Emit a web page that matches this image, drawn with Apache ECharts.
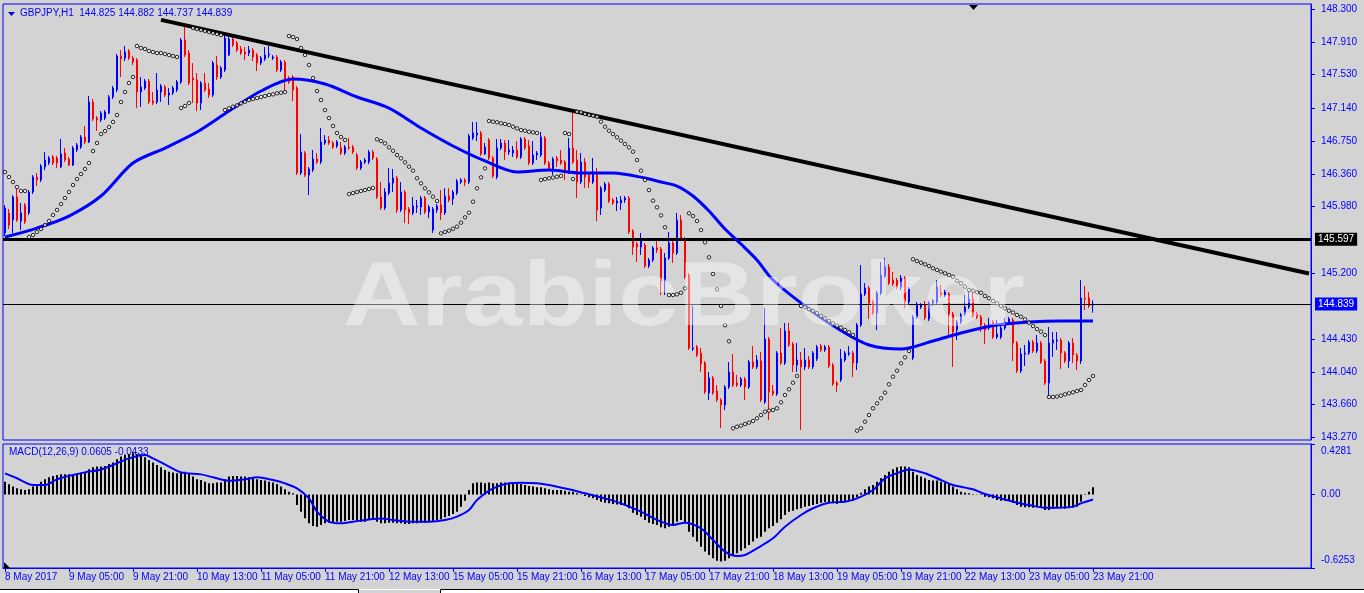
<!DOCTYPE html>
<html><head><meta charset="utf-8">
<script src="https://cdn.jsdelivr.net/npm/echarts@6/dist/echarts.min.js"></script>
<style>html,body{margin:0;padding:0;background:#d3d3d3;overflow:hidden}#c{width:1364px;height:593px}</style>
</head><body><div id="c"></div>
<script>
const symbol = 'GBPJPY,H1';
const tickLabels = ['8 May 2017','9 May 05:00','9 May 21:00','10 May 13:00','11 May 05:00','11 May 21:00','12 May 13:00','15 May 05:00','15 May 21:00','16 May 13:00','17 May 05:00','17 May 21:00','18 May 13:00','19 May 05:00','19 May 21:00','22 May 13:00','23 May 05:00','23 May 21:00'];
// [open, close, low, high]
const candles = [
[145.672,145.965,145.637,146.000],[145.907,145.765,145.718,145.954],[145.824,146.094,145.672,146.117],[146.094,145.824,145.801,146.199],[145.812,145.907,145.707,146.024],
[146.000,145.801,145.777,146.024],[145.907,146.153,145.883,146.176],[146.153,146.329,146.129,146.352],[146.329,146.294,146.223,146.376],[146.294,146.458,146.270,146.481],
[146.446,146.528,146.411,146.623],[146.493,146.552,146.469,146.576],[146.564,146.493,146.469,146.587],[146.552,146.493,146.434,146.576],[146.446,146.599,146.434,146.775],
[146.611,146.528,146.505,146.669],[146.540,146.469,146.458,146.564],[146.469,146.669,146.458,146.693],[146.646,146.705,146.623,146.728],[146.681,146.798,146.658,146.822],
[146.798,146.740,146.716,146.927],[146.740,147.209,146.728,147.280],[147.209,147.010,146.986,147.244],[147.021,146.998,146.869,147.045],[146.998,147.080,146.975,147.103],
[147.021,147.092,146.998,147.115],[147.080,147.268,147.068,147.291],[147.268,147.373,147.244,147.397],[147.350,147.749,147.326,147.772],[147.749,147.714,147.502,147.819],
[147.725,147.796,147.690,147.866],[147.807,147.725,147.702,147.831],[147.725,147.678,147.643,147.749],[147.702,147.326,147.138,147.725],[147.326,147.385,147.150,147.502],
[147.373,147.455,147.350,147.479],[147.455,147.209,147.185,147.479],[147.221,147.197,147.174,147.326],[147.209,147.350,147.185,147.549],[147.326,147.397,147.209,147.420],
[147.385,147.291,147.268,147.408],[147.291,147.315,147.174,147.373],[147.315,147.373,147.291,147.397],[147.350,147.444,147.326,147.467],[147.444,147.936,147.420,147.960],
[147.936,147.760,147.737,148.089],[147.784,147.432,147.408,147.819],[147.490,147.467,147.197,147.666],[147.467,147.197,147.103,147.549],[147.197,147.432,147.115,147.455],
[147.432,147.350,147.326,147.549],[147.361,147.291,147.256,147.432],[147.291,147.666,147.268,147.690],[147.643,147.502,147.467,147.749],[147.502,147.608,147.479,147.631],
[147.584,147.960,147.561,147.995],[147.760,147.948,147.749,147.983],[147.948,147.878,147.854,147.971],[147.901,147.819,147.796,147.925],[147.831,147.784,147.760,147.866],
[147.796,147.772,147.702,147.854],[147.784,147.819,147.749,147.866],[147.819,147.737,147.690,147.843],[147.760,147.666,147.573,147.784],[147.666,147.725,147.643,147.749],
[147.714,147.760,147.690,147.854],[147.760,147.772,147.725,147.866],[147.725,147.737,147.702,147.760],[147.737,147.584,147.561,147.760],[147.584,147.678,147.561,147.702],
[147.678,147.467,147.326,147.702],[147.490,147.444,147.420,147.514],[147.502,147.350,147.221,147.526],[147.373,146.376,146.352,147.397],[146.376,146.623,146.352,146.833],
[146.611,146.352,146.329,146.634],[146.352,146.423,146.117,146.446],[146.411,146.540,146.387,146.646],[146.540,146.505,146.481,146.611],[146.505,146.740,146.481,146.904],
[146.728,146.763,146.705,146.822],[146.763,146.728,146.705,146.810],[146.728,146.681,146.658,146.751],[146.693,146.740,146.669,146.763],[146.669,146.611,146.587,146.740],
[146.611,146.681,146.587,146.705],[146.681,146.669,146.646,146.787],[146.681,146.623,146.599,146.705],[146.587,146.434,146.411,146.611],[146.434,146.505,146.411,146.528],
[146.505,146.528,146.481,146.552],[146.505,146.623,146.481,146.646],[146.623,146.552,146.528,146.646],[146.540,146.094,146.071,146.564],[146.094,145.965,145.942,146.270],
[145.965,146.153,145.942,146.199],[146.141,146.258,146.117,146.434],[146.258,146.317,146.153,146.423],[146.317,145.942,145.907,146.340],[145.942,146.153,145.918,146.270],
[146.153,145.942,145.789,146.176],[145.954,145.907,145.777,145.977],[145.907,145.989,145.883,146.094],[145.977,145.989,145.907,146.059],[145.977,146.082,145.883,146.106],
[146.082,145.918,145.895,146.106],[145.918,145.977,145.848,146.000],[145.707,145.954,145.672,145.977],[145.942,145.989,145.907,146.012],[146.000,145.907,145.824,146.176],
[145.907,146.106,145.883,146.199],[146.106,146.059,146.035,146.199],[146.071,146.153,146.000,146.176],[146.141,146.282,146.117,146.305],[146.270,146.294,146.247,146.317],
[146.294,146.270,146.223,146.317],[146.270,146.810,146.247,146.833],[146.787,146.845,146.763,146.975],[146.822,146.845,146.751,146.975],[146.845,146.599,146.576,146.869],
[146.599,146.681,146.587,146.728],[146.763,146.552,146.528,146.787],[146.552,146.340,146.317,146.576],[146.329,146.669,146.305,146.775],[146.669,146.728,146.646,146.775],
[146.728,146.623,146.528,146.763],[146.623,146.646,146.587,146.763],[146.611,146.646,146.564,146.693],[146.646,146.564,146.540,146.751],[146.564,146.775,146.540,146.798],
[146.775,146.669,146.646,146.798],[146.693,146.493,146.469,146.763],[146.493,146.587,146.469,146.751],[146.587,146.611,146.528,146.634],[146.587,146.798,146.564,146.857],
[146.787,146.493,146.469,146.810],[146.493,146.423,146.399,146.517],[146.423,146.540,146.352,146.564],[146.552,146.517,146.446,146.576],[146.528,146.493,146.469,146.646],
[146.505,146.387,146.294,146.528],[146.387,146.669,146.364,146.787],[146.669,146.505,146.481,147.092],[146.528,146.270,146.082,146.646],[146.270,146.505,146.247,146.611],
[146.505,146.329,146.199,146.552],[146.352,146.270,146.199,146.376],[146.270,146.387,146.247,146.552],[146.352,145.942,145.812,146.434],[145.965,146.199,145.883,146.223],
[146.176,146.247,146.153,146.270],[146.247,146.047,146.024,146.270],[146.059,146.024,146.000,146.082],[146.024,146.047,145.930,146.094],[146.024,146.059,145.942,146.106],
[146.059,146.082,146.024,146.106],[146.082,145.684,145.660,146.106],[145.695,145.508,145.414,145.718],[145.543,145.508,145.332,145.567],[145.508,145.590,145.414,145.672],
[145.531,145.285,145.261,145.555],[145.285,145.355,145.261,145.379],[145.355,145.496,145.332,145.519],[145.496,145.472,145.437,145.590],[145.484,145.109,144.944,145.508],
[145.109,145.379,144.944,145.437],[145.379,145.555,145.355,145.684],[145.555,145.437,145.320,145.578],[145.437,145.824,145.414,145.907],[145.824,145.613,145.590,145.883],
[145.602,145.156,145.132,145.625],[145.179,144.323,144.299,145.203],[144.311,144.323,144.287,144.815],[144.334,144.240,144.217,144.358],[144.264,144.135,144.041,144.323],
[144.147,143.807,143.783,144.170],[143.795,143.971,143.712,144.041],[143.971,143.795,143.772,143.994],[143.818,143.712,143.689,143.888],[143.712,143.654,143.384,143.736],
[143.654,143.865,143.595,143.888],[143.865,144.041,143.841,144.158],[144.041,143.888,143.865,144.252],[143.912,143.888,143.865,144.006],[143.888,143.959,143.865,143.983],
[143.959,143.865,143.712,143.983],[143.865,144.158,143.841,144.182],[144.158,144.100,144.076,144.346],[144.100,144.182,144.076,144.240],[144.170,143.712,143.689,144.276],
[143.689,144.428,143.666,144.792],[144.428,143.807,143.478,144.452],[143.818,143.783,143.760,143.888],[143.783,144.264,143.760,144.287],[144.264,144.147,144.123,144.557],
[144.147,144.522,144.123,144.616],[144.522,144.358,144.334,144.616],[144.369,144.123,144.041,144.393],[144.123,144.182,144.041,144.381],[144.182,144.100,143.360,144.276],
[144.100,144.182,144.064,144.323],[144.182,144.100,144.076,144.229],[144.100,144.264,144.076,144.287],[144.194,144.334,144.170,144.358],[144.346,144.299,144.276,144.369],
[144.299,144.334,144.276,144.358],[144.334,144.111,144.088,144.358],[144.123,143.900,143.877,144.147],[143.912,143.888,143.807,143.935],[143.947,144.194,143.924,144.311],
[144.182,144.264,144.158,144.287],[144.252,144.264,144.229,144.346],[144.264,144.147,143.982,144.287],[144.147,144.592,144.064,144.616],[144.592,144.956,144.569,145.296],
[144.956,145.026,144.933,145.085],[145.026,144.850,144.663,145.050],[144.862,144.733,144.710,144.886],[144.733,144.968,144.534,144.991],[144.968,145.179,144.944,145.332],
[145.167,145.273,145.144,145.379],[145.273,145.085,145.062,145.308],[145.120,145.073,145.050,145.214],[145.120,145.038,145.015,145.144],[145.038,145.144,145.003,145.179],
[145.144,144.862,144.792,145.167],[144.862,145.015,144.839,145.038],[144.205,144.686,144.182,144.710],[144.686,144.839,144.663,144.862],[144.804,144.827,144.780,144.850],
[144.827,144.675,144.651,144.874],[144.663,144.850,144.640,144.874],[144.850,144.874,144.815,144.897],[144.862,145.038,144.839,145.120],[144.979,144.944,144.921,145.062],
[144.944,144.979,144.921,145.003],[144.956,144.721,144.463,144.979],[144.721,144.510,144.100,144.745],[144.534,144.627,144.416,144.651],[144.627,144.710,144.604,144.733],
[144.721,144.804,144.698,144.944],[144.804,144.897,144.780,145.003],[144.897,144.698,144.675,145.003],[144.721,144.686,144.663,144.745],[144.686,144.592,144.510,144.710],
[144.592,144.534,144.369,144.616],[144.557,144.592,144.534,144.675],[144.627,144.452,144.428,144.651],[144.452,144.487,144.428,144.651],[144.452,144.557,144.428,144.581],
[144.557,144.627,144.534,144.675],[144.627,144.663,144.604,144.686],[144.651,144.381,144.170,144.675],[144.381,144.053,144.029,144.405],[144.053,144.252,144.029,144.323],
[144.252,144.264,144.111,144.358],[144.264,144.393,144.240,144.416],[144.393,144.287,144.264,144.416],[144.287,144.381,144.264,144.475],[144.381,144.158,144.135,144.405],
[144.170,143.912,143.888,144.194],[143.912,144.381,143.748,144.569],[144.381,144.416,144.217,144.510],[144.405,144.416,144.299,144.510],[144.416,144.264,144.076,144.440],
[144.264,144.170,144.147,144.287],[144.170,144.381,144.088,144.405],[144.381,144.240,144.147,144.440],[144.240,144.170,144.064,144.264],[144.170,144.909,144.135,145.120],
[144.909,144.897,144.768,145.050],[144.909,144.815,144.792,144.979],[144.825,144.839,144.737,144.882]
];
// moving average: [bar, price]
const maPoints = [[0,145.625],[8,145.730],[16,145.871],[24,146.106],[32,146.493],[40,146.669],[48,146.857],[56,147.103],[64,147.338],[72,147.479],[80,147.420],[88,147.268],[96,147.138],[104,146.904],[112,146.693],[120,146.517],[128,146.387],[136,146.411],[144,146.376],[152,146.376],[160,146.317],[164,146.270],[168,146.223],[172,146.106],[176,145.930],[180,145.719],[184,145.543],[188,145.355],[192,145.120],[200,144.815],[208,144.557],[216,144.358],[224,144.311],[232,144.405],[240,144.510],[248,144.592],[256,144.627],[264,144.639],[272,144.639]];
// parabolic SAR dots, one per bar
const sarValues = [
146.387,146.329,146.270,146.211,146.165,146.165,
145.625,145.648,145.684,145.719,145.766,145.813,145.883,145.942,146.012,146.082,146.153,146.235,146.305,146.364,146.423,146.493,146.634,146.728,146.833,146.868,146.915,146.975,147.056,147.209,147.326,147.432,147.502,
147.866,147.842,147.831,147.807,147.795,147.784,147.784,147.772,147.760,147.748,147.737,
147.138,147.162,147.197,
148.077,148.065,148.054,148.042,148.030,148.018,148.007,147.995,
147.115,147.135,147.154,147.170,147.194,147.212,147.232,147.244,147.256,147.267,147.279,147.291,147.299,147.311,147.318,147.326,
147.983,147.971,147.948,147.842,147.760,147.643,147.490,147.338,147.232,147.115,147.021,146.927,146.845,146.798,146.763,
146.129,146.141,146.153,146.165,146.176,146.188,146.200,
146.771,146.751,146.724,146.677,146.637,146.587,146.548,146.501,146.450,146.403,146.314,146.255,146.196,146.149,146.098,146.047,
145.668,145.684,145.699,145.722,145.746,145.793,145.856,145.910,146.039,146.196,146.325,146.431,
146.986,146.978,146.971,146.959,146.951,146.939,146.919,146.900,146.880,146.872,146.860,146.853,146.845,
146.294,146.305,146.314,146.323,146.332,146.341,
146.845,146.833,
146.305,
147.095,147.088,147.068,147.056,147.048,147.036,146.978,146.919,146.872,146.833,146.795,146.755,146.716,146.677,146.626,146.528,146.403,146.294,146.176,146.051,145.973,145.879,145.739,
144.944,144.944,144.952,144.971,145.023,
145.903,145.871,145.813,145.707,145.563,145.387,145.191,145.011,144.815,144.589,144.401,
143.380,143.399,143.411,143.431,143.446,143.466,143.498,143.536,143.575,143.587,143.595,143.615,143.685,143.771,143.838,143.915,143.994,
144.815,144.800,144.777,144.757,144.733,144.698,144.669,144.639,144.612,144.584,144.561,144.534,144.507,144.475,
143.352,143.380,143.458,143.536,143.615,143.673,143.732,143.798,143.896,143.986,144.056,144.143,144.213,144.287,
145.363,145.343,145.323,145.305,145.285,145.258,145.238,145.218,145.199,145.179,145.159,145.112,145.082,145.042,145.003,144.995,144.976,144.971,144.933,144.906,144.874,144.847,144.815,144.788,144.760,144.739,144.710,144.690,144.659,144.619,144.581,144.545,144.514,144.475,
143.748,143.748,143.753,143.763,143.779,143.791,143.803,143.818,143.830,143.888,143.947,143.994
];
// MACD main (histogram), one per bar
const macdValues = [
0.108,0.086,0.066,0.052,0.043,0.037,0.043,0.066,0.080,0.108,
0.128,0.145,0.156,0.165,0.171,0.171,0.171,0.173,0.179,0.185,
0.190,0.213,0.230,0.236,0.236,0.241,0.258,0.270,0.298,0.321,
0.335,0.343,0.349,0.343,0.326,0.315,0.292,0.270,0.250,0.230,
0.207,0.193,0.185,0.179,0.193,0.193,0.173,0.151,0.128,0.122,
0.108,0.094,0.094,0.100,0.100,0.128,0.151,0.156,0.156,0.151,
0.151,0.145,0.137,0.128,0.122,0.117,0.108,0.100,0.088,0.066,
0.043,0.023,0.009,-0.090,-0.147,-0.203,-0.246,-0.268,-0.274,-0.260,
-0.246,-0.240,-0.234,-0.232,-0.232,-0.226,-0.217,-0.217,-0.223,-0.232,
-0.232,-0.217,-0.212,-0.232,-0.246,-0.246,-0.240,-0.240,-0.246,-0.246,
-0.251,-0.251,-0.246,-0.246,-0.240,-0.240,-0.232,-0.232,-0.217,-0.212,
-0.195,-0.183,-0.166,-0.147,-0.104,-0.053,0.037,0.094,0.100,0.100,
0.094,0.100,0.094,0.094,0.100,0.100,0.094,0.094,0.088,0.088,
0.080,0.071,0.066,0.060,0.060,0.052,0.043,0.037,0.037,0.037,
0.032,0.023,0.023,0.009,0.001,-0.014,-0.025,-0.033,-0.048,-0.062,
-0.070,-0.076,-0.082,-0.085,-0.090,-0.090,-0.118,-0.155,-0.175,-0.189,
-0.217,-0.240,-0.251,-0.260,-0.280,-0.288,-0.274,-0.268,-0.232,-0.217,
-0.246,-0.317,-0.359,-0.401,-0.444,-0.486,-0.515,-0.543,-0.563,-0.571,
-0.563,-0.543,-0.523,-0.500,-0.478,-0.458,-0.430,-0.401,-0.373,-0.359,
-0.317,-0.288,-0.268,-0.240,-0.212,-0.175,-0.147,-0.138,-0.127,-0.118,
-0.104,-0.099,-0.090,-0.082,-0.070,-0.065,-0.068,-0.076,-0.082,-0.070,
-0.062,-0.053,-0.056,-0.025,0.015,0.043,0.066,0.080,0.108,0.137,
0.165,0.193,0.213,0.230,0.236,0.236,0.230,0.193,0.165,0.151,
0.137,0.122,0.117,0.117,0.108,0.100,0.088,0.066,0.043,0.023,
0.015,0.009,0.003,0.001,-0.005,-0.019,-0.025,-0.033,-0.048,-0.053,
-0.053,-0.056,-0.070,-0.090,-0.104,-0.110,-0.110,-0.113,-0.110,-0.115,
-0.132,-0.132,-0.121,-0.118,-0.118,-0.121,-0.118,-0.113,-0.104,-0.062,
-0.005,0.023,0.0605
];
// MACD signal line: [bar, value]
const signalPoints = [[0,0.179],[3,0.137],[7,0.080],[10,0.080],[13,0.128],[17,0.165],[20,0.187],[24,0.212],[27,0.250],[31,0.306],[35,0.335],[37,0.306],[41,0.236],[44,0.187],[49,0.170],[52,0.145],[56,0.116],[60,0.128],[63,0.145],[67,0.122],[70,0.094],[73,0.051],[76,-0.034],[78,-0.147],[81,-0.232],[84,-0.246],[87,-0.232],[92,-0.209],[94,-0.204],[97,-0.218],[101,-0.232],[106,-0.232],[110,-0.218],[113,-0.189],[116,-0.133],[118,-0.048],[122,0.051],[126,0.094],[129,0.099],[133,0.094],[136,0.080],[141,0.043],[145,0.009],[150,-0.034],[154,-0.076],[159,-0.147],[163,-0.217],[167,-0.260],[170,-0.240],[174,-0.288],[177,-0.387],[180,-0.486],[183,-0.523],[185,-0.515],[188,-0.458],[192,-0.373],[195,-0.274],[199,-0.175],[202,-0.118],[206,-0.071],[210,-0.062],[213,-0.034],[217,0.037],[220,0.136],[224,0.193],[226,0.212],[230,0.179],[234,0.122],[237,0.080],[242,0.043],[245,0.003],[249,-0.034],[252,-0.062],[256,-0.090],[260,-0.113],[263,-0.113],[267,-0.104],[269,-0.076],[272,-0.0433]];
const priceTicks = [143.270,143.660,144.040,144.430,145.200,145.980,146.360,146.750,147.140,147.530,147.910,148.300];
const macdTicks = [-0.6253,0,0.4281];
const priceRange = [143.243,148.359];
const macdRange = [-0.6253,0.4281];
const supportLevel = 145.597;
const trendStart = [39,148.173];
const trendEnd = [326,145.197];
const slotCount = 327;
const labelEvery = 16;

const lastBar = candles[candles.length-1];
const lastClose = lastBar[1];
const categories = Array.from({length: slotCount}, (_, i) => String(i));
const BLUE = '#0000ff';
const FONT = '"Liberation Sans", Arial, sans-serif';
const isLabel = (i) => i % labelEvery === 0 && i < candles.length;

const chart = echarts.init(document.getElementById('c'), null, {renderer: 'canvas'});
chart.setOption({
  animation: false,
  backgroundColor: '#d3d3d3',
  grid: [
    {left: 3, top: 4, width: 1308, height: 436, show: true, borderColor: BLUE, borderWidth: 1, backgroundColor: 'transparent', outerBoundsMode: 'none'},
    {left: 3, top: 444, width: 1308, height: 124, show: true, borderColor: BLUE, borderWidth: 1, backgroundColor: 'transparent', outerBoundsMode: 'none'}
  ],
  xAxis: [
    {type: 'category', gridIndex: 0, data: categories, boundaryGap: true, show: false},
    {type: 'category', gridIndex: 1, data: categories, boundaryGap: true, position: 'bottom',
     axisLine: {show: true, onZero: false, lineStyle: {color: BLUE}},
     axisTick: {show: true, alignWithLabel: true, interval: isLabel, length: 4, lineStyle: {color: BLUE}},
     axisLabel: {interval: isLabel, formatter: (v, i) => tickLabels[i / labelEvery] || '', color: BLUE, fontSize: 10, fontFamily: FONT, align: 'left', margin: 4},
     splitLine: {show: false}}
  ],
  yAxis: [
    {type: 'value', gridIndex: 0, position: 'right', min: priceRange[0], max: priceRange[1], scale: true,
     splitLine: {show: false}, axisLine: {show: true, lineStyle: {color: BLUE}},
     axisTick: {show: true, length: 4, customValues: priceTicks, lineStyle: {color: BLUE}},
     axisLabel: {customValues: priceTicks, formatter: v => v.toFixed(3), color: BLUE, fontSize: 10, fontFamily: FONT, margin: 10}},
    {type: 'value', gridIndex: 1, position: 'right', min: macdRange[0], max: macdRange[1], scale: true,
     splitLine: {show: false}, axisLine: {show: true, lineStyle: {color: BLUE}},
     axisTick: {show: true, length: 4, customValues: macdTicks, lineStyle: {color: BLUE}},
     axisLabel: {customValues: macdTicks, color: BLUE, fontSize: 10, fontFamily: FONT, margin: 10,
       formatter: v => v === 0 ? '0.00' : (v > 0 ? '{t|' + v.toFixed(4) + '}' : '{b|' + v.toFixed(4) + '}'),
       rich: {t: {padding: [14, 0, 0, 0], color: BLUE, fontSize: 10, fontFamily: FONT}, b: {padding: [0, 0, 16, 0], color: BLUE, fontSize: 10, fontFamily: FONT}}}}
  ],
  series: [
    {type: 'candlestick', xAxisIndex: 0, yAxisIndex: 0, data: candles, barWidth: 2, z: 3,
     itemStyle: {color: BLUE, color0: '#ff0000', borderColor: BLUE, borderColor0: '#ff0000', borderWidth: 1},
     markLine: {symbol: ['none', 'none'], silent: true, animation: false, z: 4,
       data: [
         [{coord: trendStart, lineStyle: {color: '#000', width: 4, type: 'solid'}, label: {show: false}}, {coord: trendEnd}],
         {yAxis: supportLevel, lineStyle: {color: '#000', width: 3, type: 'solid'},
          label: {show: true, position: 'end', distance: 4, formatter: supportLevel.toFixed(3), backgroundColor: '#000', color: '#fff', fontSize: 10, fontFamily: FONT, padding: [2, 3, 1, 3]}},
         {yAxis: lastClose, lineStyle: {color: '#000', width: 1, type: 'solid'},
          label: {show: true, position: 'end', distance: 4, formatter: lastClose.toFixed(3), backgroundColor: BLUE, color: '#fff', fontSize: 10, fontFamily: FONT, padding: [2, 3, 1, 3]}}
       ]}},
    {type: 'line', xAxisIndex: 0, yAxisIndex: 0, data: maPoints, smooth: 0.3, symbol: 'none', z: 5,
     lineStyle: {color: BLUE, width: 3}},
    {type: 'scatter', xAxisIndex: 0, yAxisIndex: 0, data: sarValues, symbol: 'circle', symbolSize: 3.5, z: 6,
     itemStyle: {color: '#f0f0f0', borderColor: '#000', borderWidth: 1}},
    {type: 'bar', xAxisIndex: 1, yAxisIndex: 1, data: macdValues, barWidth: 2, z: 3,
     itemStyle: {color: '#000'}},
    {type: 'line', xAxisIndex: 1, yAxisIndex: 1, data: signalPoints, smooth: 0.3, symbol: 'none', z: 5,
     lineStyle: {color: BLUE, width: 2}}
  ],
  graphic: [
    {type: 'polygon', shape: {points: [[8, 12], [15, 12], [11.5, 16]]}, style: {fill: BLUE}, z: 20},
    {type: 'text', left: 20, top: 8, z: 20, style: {text: symbol + '  ' + lastBar[0].toFixed(3) + ' ' + lastBar[3].toFixed(3) + ' ' + lastBar[2].toFixed(3) + ' ' + lastBar[1].toFixed(3), fill: BLUE, font: '10px ' + FONT}},
    {type: 'text', left: 9, top: 447, z: 1, style: {text: 'MACD(12,26,9) ' + macdValues[macdValues.length - 1].toFixed(4) + ' ' + signalPoints[signalPoints.length - 1][1].toFixed(4), fill: BLUE, font: '10px ' + FONT}},
    {type: 'polygon', shape: {points: [[969, 5], [978, 5], [973.5, 10]]}, style: {fill: '#000'}, z: 20},
    {type: 'polygon', shape: {points: [[4, 562], [4, 568], [10, 568]]}, style: {fill: '#000'}, z: 20},
    {type: 'rect', shape: {x: 0, y: 589, width: 1364, height: 4}, style: {fill: '#ffffff'}, z: 20},
    {type: 'polyline', shape: {points: [[0, 589.5], [358.5, 589.5], [358.5, 593]]}, style: {stroke: '#000', lineWidth: 1, fill: null}, z: 21},
    {type: 'polyline', shape: {points: [[440.5, 593], [440.5, 589.5], [1364, 589.5]]}, style: {stroke: '#000', lineWidth: 1, fill: null}, z: 21},
    {type: 'rect', shape: {x: 359, y: 590, width: 81, height: 3}, style: {fill: '#d3d3d3'}, z: 21},
    {type: 'text', x: 343, y: 255, scaleX: 1.17, scaleY: 0.98, z: 30, silent: true, style: {text: 'ArabicBroker', fill: 'rgba(255,255,255,0.42)', font: 'bold 92px ' + FONT}}
  ]
});
</script>
</body></html>
